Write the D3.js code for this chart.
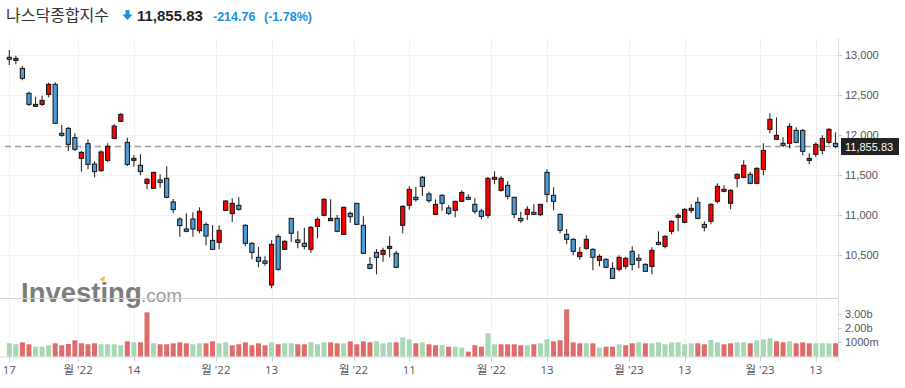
<!DOCTYPE html>
<html><head><meta charset="utf-8">
<script src="https://cdn.jsdelivr.net/npm/d3@7"></script>
<style>
body{margin:0;background:#fff;}
svg{display:block;font-family:"Open Sans","Noto Sans CJK KR",sans-serif;}
</style>
</head><body><svg id="c" width="905" height="388"></svg>
<script>
const title = "나스닥종합지수";
const lastPrice = "11,855.83", changeText = "-214.76", changePctText = "(-1.78%)";

const dates = [
"2022-08-17","2022-08-18","2022-08-19","2022-08-22","2022-08-23","2022-08-24","2022-08-25","2022-08-26","2022-08-29","2022-08-30","2022-08-31",
"2022-09-01","2022-09-02","2022-09-06","2022-09-07","2022-09-08","2022-09-09","2022-09-12","2022-09-13","2022-09-14","2022-09-15","2022-09-16","2022-09-19","2022-09-20","2022-09-21","2022-09-22","2022-09-23","2022-09-26","2022-09-27","2022-09-28","2022-09-29","2022-09-30",
"2022-10-03","2022-10-04","2022-10-05","2022-10-06","2022-10-07","2022-10-10","2022-10-11","2022-10-12","2022-10-13","2022-10-14","2022-10-17","2022-10-18","2022-10-19","2022-10-20","2022-10-21","2022-10-24","2022-10-25","2022-10-26","2022-10-27","2022-10-28","2022-10-31",
"2022-11-01","2022-11-02","2022-11-03","2022-11-04","2022-11-07","2022-11-08","2022-11-09","2022-11-10","2022-11-11","2022-11-14","2022-11-15","2022-11-16","2022-11-17","2022-11-18","2022-11-21","2022-11-22","2022-11-23","2022-11-25","2022-11-28","2022-11-29","2022-11-30",
"2022-12-01","2022-12-02","2022-12-05","2022-12-06","2022-12-07","2022-12-08","2022-12-09","2022-12-12","2022-12-13","2022-12-14","2022-12-15","2022-12-16","2022-12-19","2022-12-20","2022-12-21","2022-12-22","2022-12-23","2022-12-27","2022-12-28","2022-12-29","2022-12-30",
"2023-01-03","2023-01-04","2023-01-05","2023-01-06","2023-01-09","2023-01-10","2023-01-11","2023-01-12","2023-01-13","2023-01-17","2023-01-18","2023-01-19","2023-01-20","2023-01-23","2023-01-24","2023-01-25","2023-01-26","2023-01-27","2023-01-30","2023-01-31",
"2023-02-01","2023-02-02","2023-02-03","2023-02-06","2023-02-07","2023-02-08","2023-02-09","2023-02-10","2023-02-13","2023-02-14","2023-02-15","2023-02-16"];

const open = [12971,12933,12833,12521,12358,12383,12508,12633,12021,12083,11967,11708,11892,11637,11554,11683,11958,12171,11908,11683,11621,11396,11333,11438,11458,11163,10950,10825,10950,10804,10883,10683,10658,11058,11017,11121,10871,10646,10471,10425,10125,10733,10571,10958,10688,10646,10571,10858,10996,10929,10958,10758,11021,11146,10871,10383,10533,10508,10583,10521,10871,11121,11221,11471,11263,11008,11246,11088,11058,11171,11221,11133,11050,10996,11446,11308,11371,11221,10958,11008,11033,11004,11533,11246,11008,10758,10696,10479,10583,10571,10433,10446,10333,10321,10358,10546,10458,10383,10358,10658,10608,10796,10971,10908,11058,11158,10883,10921,11171,11296,11146,11458,11471,11508,11396,11571,12071,11946,11896,11896,12058,12058,11683,11758,11808,11908,11896];
const high = [13062,12992,12858,12542,12479,12492,12654,12658,12125,12100,12021,11800,11946,11671,11808,11896,12133,12271,11967,11750,11758,11467,11542,11508,11608,11200,10971,11021,11033,11096,10908,10875,10871,11188,11208,11221,10883,10658,10600,10483,10683,10758,10683,10963,10800,10842,10863,10971,11208,11196,11000,11104,11042,11150,10983,10475,10575,10592,10733,10554,11121,11358,11350,11487,11292,11196,11258,11121,11179,11308,11258,11208,11075,11475,11546,11483,11421,11229,11042,11108,11133,11142,11571,11346,11021,10825,10708,10600,10746,10583,10508,10458,10408,10496,10475,10608,10508,10396,10596,10796,10746,10933,11021,11083,11133,11221,10921,11146,11396,11371,11321,11521,11683,11542,11596,11896,12271,12221,11971,12146,12096,12071,11771,11908,11996,12083,12033];
const low = [12875,12883,12683,12362,12354,12362,12471,12137,11979,11800,11800,11542,11571,11471,11542,11658,11946,12163,11612,11604,11496,11321,11325,11342,11208,11021,10729,10783,10729,10771,10621,10567,10571,11050,10908,11054,10608,10446,10346,10367,10083,10304,10567,10663,10583,10571,10529,10708,10983,10929,10783,10750,10904,10875,10513,10321,10258,10417,10471,10338,10771,11067,11167,11242,11154,11000,11054,11000,10971,11167,11183,11017,10946,10958,11383,11292,11196,10958,10904,10938,11000,10983,11158,11058,10771,10633,10496,10442,10567,10308,10358,10333,10204,10296,10321,10308,10333,10292,10258,10621,10583,10758,10796,10896,11021,10946,10796,10883,11146,11283,11071,11346,11458,11383,11383,11496,12021,11938,11846,11833,11896,11746,11633,11721,11758,11883,11833];
const close = [12946,12958,12708,12383,12383,12433,12633,12146,11996,11883,11821,11783,11633,11542,11788,11858,12112,12258,11633,11708,11542,11446,11533,11408,11221,11067,10867,10796,10825,11046,10737,10571,10808,11175,11146,11071,10646,10533,10421,10396,10633,10321,10671,10771,10658,10608,10846,10946,11196,10958,10796,11096,10979,10883,10521,10333,10471,10558,10608,10346,11108,11321,11192,11358,11179,11133,11146,11021,11171,11283,11196,11046,10983,11458,11471,11458,11233,11008,10929,11071,11008,11133,11258,11171,10808,10696,10546,10533,10696,10471,10483,10346,10208,10471,10458,10383,10433,10296,10558,10633,10733,10921,10996,11071,11083,10958,10846,11133,11358,11321,11308,11508,11621,11396,11583,11808,12196,11996,11871,12108,11908,11796,11708,11883,11958,12071,11855.83];
// volume in billions
const volume = [0.93,0.86,1.00,0.86,0.69,0.69,0.79,0.93,0.79,0.88,1.14,0.93,0.86,0.93,0.86,0.86,0.86,0.79,1.07,1.00,1.00,3.11,0.93,0.86,0.86,0.93,1.00,0.93,0.86,0.93,0.93,1.07,0.93,1.00,0.79,0.86,1.00,0.79,0.93,0.79,1.00,0.86,0.93,0.93,0.86,0.86,1.00,0.86,1.00,1.00,0.93,0.93,1.07,0.86,1.07,1.00,1.07,0.93,1.00,1.00,1.35,1.21,0.93,1.00,0.86,0.79,0.79,0.69,0.69,0.62,0.34,0.79,0.69,1.63,0.86,0.86,0.86,0.86,0.79,0.79,0.86,0.93,1.21,1.07,1.14,3.32,1.00,0.93,0.93,0.93,0.62,0.69,0.69,0.86,0.79,0.93,1.00,0.93,0.93,1.00,0.86,1.00,1.00,0.86,0.93,0.93,0.86,1.16,1.00,0.86,0.93,1.00,1.00,0.93,1.14,1.21,1.28,1.07,1.00,1.07,0.93,1.00,0.93,0.93,0.93,0.93,0.93];

const priceTicks = [10500, 11000, 11500, 12000, 12500, 13000];
const volumeTicks = [1, 2, 3];
const volumeTickLabels = ["1000m", "2.00b", "3.00b"];
const xTickDates = ["2022-08-17","2022-09-01","2022-09-14","2022-10-03","2022-10-13","2022-11-01","2022-11-11","2022-12-01","2022-12-13","2023-01-03","2023-01-13","2023-02-01","2023-02-13"];
const xTickLabels = ["17","월 '22","14","월 '22","13","월 '22","11","월 '22","13","월 '23","13","월 '23","13"];
const xTickIsMonth = [false,true,false,true,false,true,false,true,false,true,false,true,false];

const svg = d3.select("#c");
const plotRight = 838.5, plotTop = 38, panelSep = 298.5, volBase = 356.5;
const x = d3.scalePoint().domain(dates).range([9.3, 835.5]);
const step = x.step();
const y = d3.scaleLinear().domain([10500, 13000]).range([255, 55]);
const yv = d3.scaleLinear().domain([0, 3]).range([volBase, 313.9]);
const fmt = d3.format(",");
const axisFont = "'Liberation Sans',Arial,sans-serif";

// gridlines
const g = svg.append("g");
g.selectAll(".hg").data(priceTicks).join("line")
  .attr("x1", 0).attr("x2", plotRight).attr("y1", d => Math.round(y(d)) + 0.5).attr("y2", d => Math.round(y(d)) + 0.5)
  .attr("stroke", "#f1f1f1");
const xt = xTickDates.map((d, i) => ({x: x(d) - (xTickIsMonth[i] ? step / 2 : 0), label: xTickLabels[i]}));
g.selectAll(".vg").data(xt).join("line")
  .attr("x1", d => Math.round(d.x) + 0.5).attr("x2", d => Math.round(d.x) + 0.5)
  .attr("y1", plotTop).attr("y2", volBase)
  .attr("stroke", "#f1f1f1");

// watermark
const wm = svg.append("g").attr("font-family", "'Liberation Sans',Arial,sans-serif");
wm.append("text").attr("x", 21).attr("y", 302).attr("font-size", 27.5).attr("font-weight", "bold")
  .attr("fill", "#7d7d7d").text("Investing");
wm.append("text").attr("x", 141).attr("y", 302).attr("font-size", 19).attr("fill", "#9a9a9a").text(".com");
wm.append("path").attr("d", "M99.5,280 q2.5,-4 6,-3.5 q-1.5,2.5 -1,5 z").attr("fill", "#f4b860");

// separators and axes lines
svg.append("line").attr("x1", 0).attr("x2", plotRight).attr("y1", panelSep).attr("y2", panelSep).attr("stroke", "#d2d2d2");
svg.append("line").attr("x1", 0).attr("x2", plotRight).attr("y1", volBase + 0.5).attr("y2", volBase + 0.5).attr("stroke", "#dcdcdc");
svg.append("line").attr("x1", plotRight).attr("x2", plotRight).attr("y1", plotTop).attr("y2", 362).attr("stroke", "#dcdcdc");

// dashed last price line
svg.append("line").attr("x1", 5).attr("x2", plotRight).attr("y1", y(11855.83)).attr("y2", y(11855.83))
  .attr("stroke", "#9a9a9a").attr("stroke-width", 1.6).attr("stroke-dasharray", "6,4");

// volume bars
svg.append("g").selectAll("rect").data(volume).join("rect")
  .attr("x", (d, i) => x(dates[i]) - 2.5).attr("width", 5)
  .attr("y", d => yv(d)).attr("height", d => volBase - yv(d))
  .attr("fill", (d, i) => (i === 0 || close[i] >= close[i - 1]) ? "#a7d7b5" : "#e06b6b");

// candles
const cg = svg.append("g");
dates.forEach((d, i) => {
  const cx = x(d);
  cg.append("line").attr("x1", cx).attr("x2", cx).attr("y1", y(high[i])).attr("y2", y(low[i]))
    .attr("stroke", "#2a2a2a").attr("stroke-width", 1.1);
  const top = y(Math.max(open[i], close[i])), bot = y(Math.min(open[i], close[i]));
  cg.append("rect").attr("x", cx - 2.1).attr("width", 4.2)
    .attr("y", top).attr("height", Math.max(1, bot - top))
    .attr("fill", close[i] >= open[i] ? "#ff0000" : "#4a9edb")
    .attr("stroke", "#111").attr("stroke-width", 1);
});

// right axis labels
const ax = svg.append("g").attr("font-size", 11).attr("fill", "#555").attr("font-family", axisFont);
ax.selectAll(".pt").data(priceTicks).join("text")
  .attr("x", 845).attr("y", d => y(d)).attr("dy", "0.33em").text(d => fmt(d));
ax.selectAll(".ptk").data(priceTicks).join("line")
  .attr("x1", plotRight).attr("x2", plotRight + 3.5).attr("y1", d => Math.round(y(d)) + 0.5).attr("y2", d => Math.round(y(d)) + 0.5)
  .attr("stroke", "#ccc");
ax.selectAll(".vt").data(volumeTicks).join("text")
  .attr("x", 845).attr("y", d => yv(d)).attr("dy", "0.35em").text((d, i) => volumeTickLabels[i]);
ax.selectAll(".vtk").data(volumeTicks).join("line")
  .attr("x1", plotRight).attr("x2", plotRight + 3.5).attr("y1", d => Math.round(yv(d)) + 0.5).attr("y2", d => Math.round(yv(d)) + 0.5)
  .attr("stroke", "#ccc");

// last price tag
const tagY = y(11855.83);
svg.append("rect").attr("x", 841).attr("y", tagY - 8.5).attr("width", 58).attr("height", 17).attr("fill", "#222");
svg.append("text").attr("x", 845).attr("y", tagY).attr("dy", "0.45em").attr("font-size", 11).attr("font-family", axisFont)
  .attr("fill", "#fff").text(lastPrice);

// x axis
const xa = svg.append("g").attr("font-size", 11.5).attr("fill", "#555");
xa.selectAll("line").data(xt).join("line")
  .attr("x1", d => Math.round(d.x) + 0.5).attr("x2", d => Math.round(d.x) + 0.5)
  .attr("y1", volBase).attr("y2", volBase + 5).attr("stroke", "#ccc");
xa.selectAll("text").data(xt).join("text")
  .attr("x", d => d.x).attr("y", 374).attr("text-anchor", "middle").text(d => d.label);

// header
const h = svg.append("g");
h.append("text").attr("x", 6).attr("y", 21).attr("font-family", "'Noto Sans CJK KR'").attr("font-size", 16)
  .attr("fill", "#333").text(title);
h.append("path").attr("d", "M125.5,10 h4 v4.5 h3 l-5,5.5 l-5,-5.5 h3 z").attr("fill", "#1a8fdd");
h.append("text").attr("x", 137).attr("y", 21).attr("font-family", "'Liberation Sans',Arial,sans-serif")
  .attr("font-size", 15).attr("font-weight", "bold").attr("fill", "#222").text(lastPrice);
h.append("text").attr("x", 213).attr("y", 20.5).attr("font-family", "'Liberation Sans',Arial,sans-serif")
  .attr("font-size", 12.5).attr("font-weight", "bold").attr("fill", "#1a8fdd").text(changeText);
h.append("text").attr("x", 264).attr("y", 20.5).attr("font-family", "'Liberation Sans',Arial,sans-serif")
  .attr("font-size", 12.5).attr("font-weight", "bold").attr("fill", "#1a8fdd").text(changePctText);
</script>
</body></html>
